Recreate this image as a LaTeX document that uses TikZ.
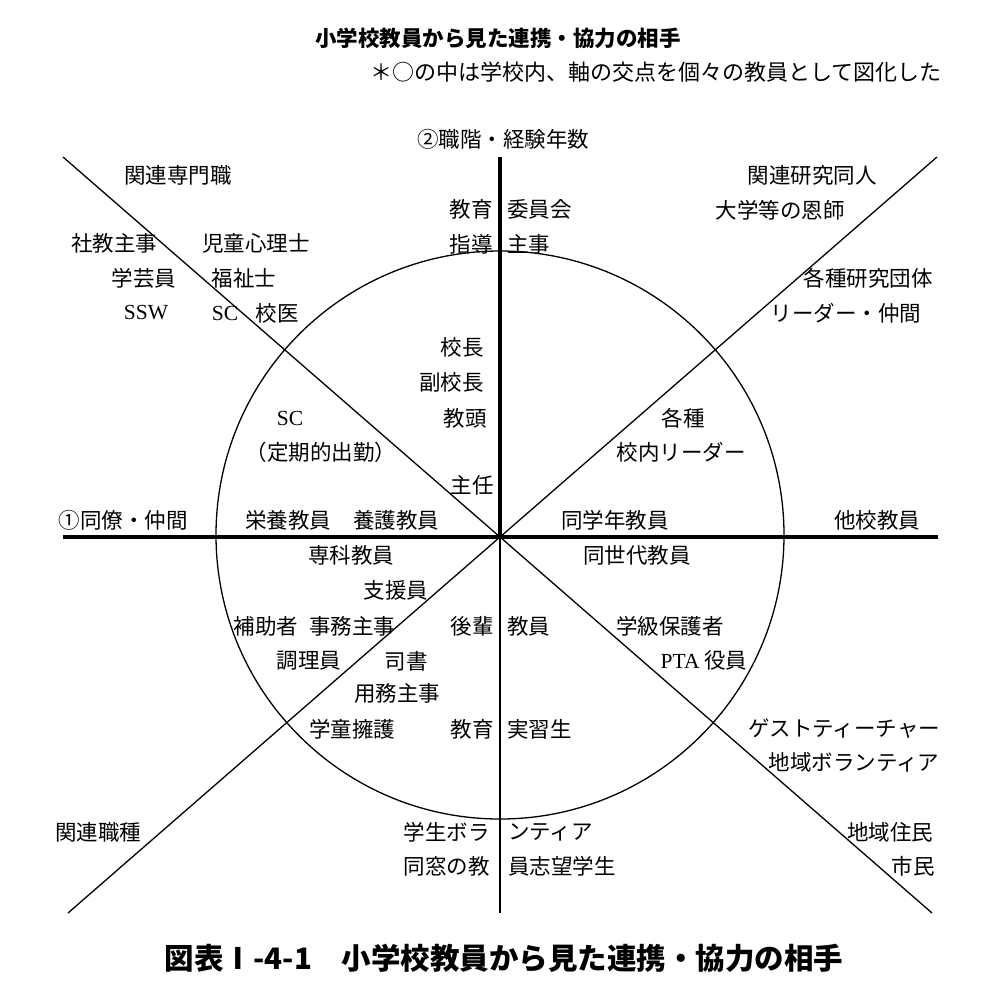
\documentclass[tikz,border=0pt]{standalone}
\usepackage{fontspec}
\setmainfont{Noto Sans CJK JP}
\newfontfamily\latinserif{Liberation Serif}
\begin{document}
\begin{tikzpicture}[x=1pt,y=-1pt,
  lbl/.style={font=\fontsize{21.5}{24}\selectfont, inner sep=0pt, text=black},
  ttl/.style={font=\bfseries\fontsize{21.5}{24}\selectfont, inner sep=0pt},
  capt/.style={font=\bfseries\fontsize{29.5}{31}\selectfont, inner sep=0pt},
  thinline/.style={line width=1.3pt, black},
  thickline/.style={line width=4pt, black}]
\useasboundingbox (0,0) rectangle (1000,996);
% axes geometry
\coordinate (O) at (500,537);
\coordinate (C) at (500,535);
\coordinate (top) at (500,157);
\coordinate (bot) at (500,913);
\coordinate (lft) at (63,537);
\coordinate (rgt) at (938,537);
\coordinate (tl) at (63,157);
\coordinate (tr) at (937,157);
\coordinate (bl) at (68,913);
\coordinate (br) at (932,913);
\draw[thinline] (C) circle[radius=284];
\draw[thinline] (tl) -- (O) -- (br);
\draw[thinline] (tr) -- (O) -- (bl);
\draw[thinline] (O) -- (bot);
\draw[thickline] (top) -- (O);
\draw[thickline] (lft) -- (rgt);
% titles
\node[ttl] (t1) at (498,38) {小学校教員から見た連携・協力の相手};
\node[lbl,font=\fontsize{22}{24}\selectfont] (t2) at (656,72) {＊○の中は学校内、軸の交点を個々の教員として図化した};
\node[lbl] (ax2) at (503,139) {②職階・経験年数};
% upper region
\node[lbl] (a1) at (178,175) {関連専門職};
\node[lbl] (a2) at (812,175) {関連研究同人};
\node[lbl] (a3) at (780,210) {大学等の恩師};
\node[lbl,anchor=east] (b1e) at (493,209) {教育};
\node[lbl,anchor=west] (b1w) at (507,209) {委員会};
\node[lbl,anchor=east] (b2e) at (493,244) {指導};
\node[lbl,anchor=west] (b2w) at (507,244) {主事};
\node[lbl] (c1) at (114,243) {社教主事};
\node[lbl] (c2) at (256,243) {児童心理士};
\node[lbl] (c3) at (144,278) {学芸員};
\node[lbl] (c4) at (244,278) {福祉士};
\node[lbl] (c5) at (146,313) {\latinserif SSW};
\node[lbl] (c6) at (225,313) {\latinserif SC};
\node[lbl] (c7) at (277,313) {校医};
\node[lbl] (d1) at (868,278) {各種研究団体};
\node[lbl] (d2) at (846,313) {リーダー・仲間};
\node[lbl,anchor=east] (e1) at (484,347) {校長};
\node[lbl,anchor=east] (e2) at (484,382) {副校長};
\node[lbl,anchor=east] (e3) at (487,418) {教頭};
\node[lbl,anchor=east] (e4) at (494,485) {主任};
\node[lbl] (f1) at (290,418) {\latinserif SC};
\node[lbl] (f2) at (321,452) {（定期的出勤）};
\node[lbl] (g1) at (683,418) {各種};
\node[lbl] (g2) at (681,452) {校内リーダー};
% horizontal axis row
\node[lbl] (h1) at (123,520) {①同僚・仲間};
\node[lbl] (h2) at (288,520) {栄養教員};
\node[lbl] (h3) at (396,520) {養護教員};
\node[lbl] (h4) at (615,520) {同学年教員};
\node[lbl] (h5) at (877,520) {他校教員};
% lower region
\node[lbl] (i1) at (351,555) {専科教員};
\node[lbl] (i2) at (637,555) {同世代教員};
\node[lbl] (j1) at (396,590) {支援員};
\node[lbl] (k1) at (266,626) {補助者};
\node[lbl] (k2) at (352,626) {事務主事};
\node[lbl,anchor=east] (k3) at (494,626) {後輩};
\node[lbl,anchor=west] (k4) at (507,626) {教員};
\node[lbl] (k5) at (670,626) {学級保護者};
\node[lbl] (l1) at (309,661) {調理員};
\node[lbl] (l2) at (406,661) {司書};
\node[lbl] (l3) at (704,660) {{\latinserif PTA} 役員};
\node[lbl] (m1) at (397,693) {用務主事};
\node[lbl] (n1) at (352,729) {学童擁護};
\node[lbl,anchor=east] (n2) at (494,729) {教育};
\node[lbl,anchor=west] (n3) at (507,729) {実習生};
\node[lbl] (n4) at (844,729) {ゲストティーチャー};
\node[lbl] (o1) at (854,762) {地域ボランティア};
\node[lbl] (p1) at (98,832) {関連職種};
\node[lbl,anchor=east] (p2) at (490,832) {学生ボラ};
\node[lbl,anchor=west] (p3) at (508,832) {ンティア};
\node[lbl] (p4) at (890,832) {地域住民};
\node[lbl,anchor=east] (q1) at (490,866) {同窓の教};
\node[lbl,anchor=west] (q2) at (508,866) {員志望学生};
\node[lbl] (q3) at (913,866) {市民};
% caption
\node[capt] (cap) at (504,958) {図表Ⅰ-4-1　小学校教員から見た連携・協力の相手};
\end{tikzpicture}
\end{document}
